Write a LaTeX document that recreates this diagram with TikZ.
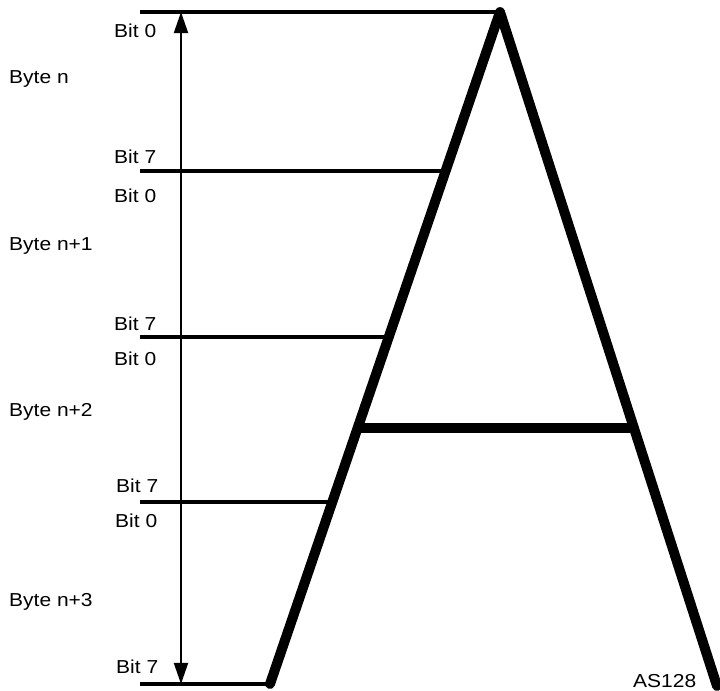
\documentclass[tikz,border=0pt]{standalone}
\usepackage{fontspec}
\newfontfamily\figfont[FakeStretch=1.12]{Liberation Sans}
\usetikzlibrary{arrows.meta}
\tikzset{
    % labels left of the scale
    bitlabel/.style={
        anchor=base west, inner sep=0pt,
        font=\figfont\fontsize{16pt}{19pt}\selectfont
    },
    bytelabel/.style={bitlabel},
    % byte boundaries
    bitline/.style={line width=3.4pt},
    % strokes of the big letter
    letterstroke/.style={line width=8.5pt, line join=round, line cap=round},
    % the double headed scale arrow
    spanarrow/.style={line width=1.6pt,
        {Triangle[length=18pt,width=12pt]}-{Triangle[length=18pt,width=12pt]}},
}

\begin{document}
\begin{tikzpicture}[x=0.03cm,y=-0.03cm]
  \useasboundingbox (0,0) rectangle (720,690);

  % --- the letter A ---
  \coordinate (apex) at (500,12);
  \coordinate (footL) at (270,684);
  \coordinate (footR) at (717,686);
  \coordinate (barL) at (359,428);
  \coordinate (barR) at (632,428);
  \draw[letterstroke] (footL) -- (apex) -- (footR);
  \draw[letterstroke,line cap=butt] (barL) -- (barR);

  % --- byte boundaries ---
  \coordinate (b0) at (140,12);
  \coordinate (b1) at (140,171);  \coordinate (e1) at (442,171);
  \coordinate (b2) at (140,337);  \coordinate (e2) at (385,337);
  \coordinate (b3) at (140,502);  \coordinate (e3) at (328,502);
  \coordinate (b4) at (140,684);
  \draw[bitline] (b0) -- (apex);
  \draw[bitline] (b1) -- (e1);
  \draw[bitline] (b2) -- (e2);
  \draw[bitline] (b3) -- (e3);
  \draw[bitline] (b4) -- (footL);

  % --- scale arrow ---
  \coordinate (top) at (181,12);
  \coordinate (bot) at (181,684);
  \draw[spanarrow] (bot) -- (top);

  % --- labels ---
  \node[bitlabel] (t0) at (114,37) {Bit 0};
  \node[bytelabel] (n0) at (9,83) {Byte n};
  \node[bitlabel] (s1) at (114,163) {Bit 7};
  \node[bitlabel] (t1) at (114,202) {Bit 0};
  \node[bytelabel] (n1) at (9,250) {Byte n+1};
  \node[bitlabel] (s2) at (114,330) {Bit 7};
  \node[bitlabel] (t2) at (114,365) {Bit 0};
  \node[bytelabel] (n2) at (9,416) {Byte n+2};
  \node[bitlabel] (s3) at (116,492) {Bit 7};
  \node[bitlabel] (t3) at (115,527) {Bit 0};
  \node[bytelabel] (n3) at (9,606) {Byte n+3};
  \node[bitlabel] (s4) at (116,673) {Bit 7};
  \node[bitlabel] (tag) at (633,687) {AS128};
\end{tikzpicture}
\end{document}
